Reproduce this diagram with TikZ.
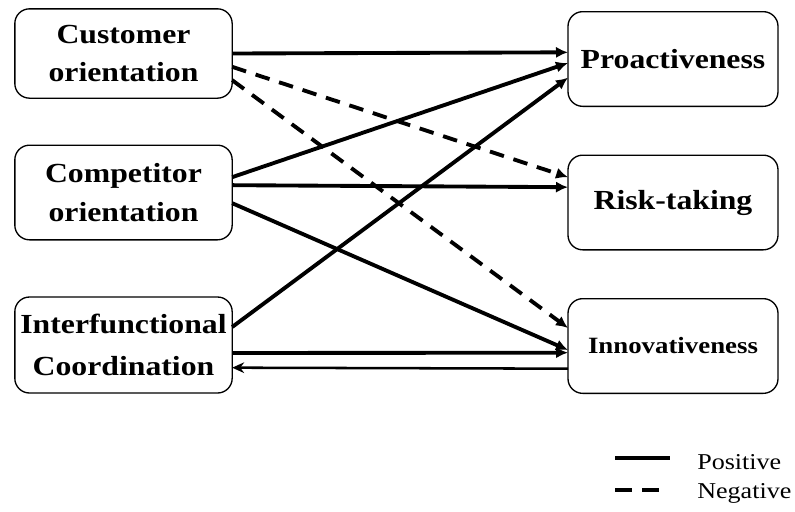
\documentclass[tikz,border=0pt]{standalone}
\usepackage{fontspec}
\setmainfont{Liberation Serif}[FakeStretch=1.15]
\usetikzlibrary{arrows.meta,positioning}

\begin{document}
\begin{tikzpicture}[x=0.75pt,y=-0.75pt,
    factor/.style={draw=black,line width=1pt,rounded corners=11pt,inner sep=2pt,outer sep=0pt,
      minimum width=163pt,align=center,font=\fontsize{20.7}{29}\selectfont\bfseries},
    outcome/.style={factor,minimum width=157.5pt,minimum height=71pt},
    posarrow/.style={line width=2.9pt,-{Latex[length=9pt,width=8.5pt]}},
    negarrow/.style={posarrow,dash pattern=on 11pt off 7.5pt},
    backarrow/.style={line width=1.9pt,-{Stealth[length=9pt,width=8pt]}},
    key/.style={anchor=west,inner sep=0pt,font=\fontsize{17}{20}\selectfont}]
    \useasboundingbox (0,0) rectangle (795,511);
    % antecedents
    \node[factor,minimum height=67pt] (cust) at (123.5,53.5) {Customer\\orientation};
    \node[factor,minimum height=71pt] (comp) at (123.5,192.5) {Competitor\\orientation};
    \node[factor,minimum height=72pt,font=\fontsize{20.7}{31}\selectfont\bfseries] (inter) at (123.5,345) {Interfunctional\\Coordination};
    % outcomes
    \node[outcome] (pro) at (673,59) {Proactiveness};
    \node[outcome] (risk) at (673,202.5) {Risk-taking};
    \node[outcome,font=\fontsize{17.5}{20}\selectfont\bfseries] (innov) at (673,346) {Innovativeness};
    % paths
    \draw[posarrow] (cust.east) -- ([yshift=5pt]pro.west);
    \draw[negarrow] ([yshift=-10pt]cust.east) -- ([yshift=19pt]risk.west);
    \draw[negarrow] ([yshift=-20pt]cust.east) -- ([yshift=13.5pt]innov.west);
    \draw[posarrow] ([yshift=11.5pt]comp.east) -- ([yshift=-3pt]pro.west);
    \draw[posarrow] ([yshift=5.5pt]comp.east) -- ([yshift=11.5pt]risk.west);
    \draw[posarrow] ([yshift=-8pt]comp.east) -- ([yshift=-3pt]innov.west);
    \draw[posarrow] ([yshift=13.5pt]inter.east) -- ([yshift=-14pt]pro.west);
    \draw[posarrow] ([yshift=-6pt]inter.east) -- ([yshift=-5pt]innov.west);
    \draw[backarrow] ([yshift=-17pt]innov.west) -- ([yshift=-17pt]inter.east);
    % legend
    \coordinate (p1) at (615,458);
    \coordinate (p2) at (670,458);
    \coordinate (n1) at (615,490);
    \coordinate (n2) at (659,490);
    \draw[line width=2.9pt] (p1) -- (p2);
    \draw[line width=2.9pt,dash pattern=on 12.75pt off 7.5pt] (n1) -- (n2);
    \node[key] (lpos) at (697,462) {Positive};
    \node[key] (lneg) at (697,493) {Negative};
\end{tikzpicture}
\end{document}
